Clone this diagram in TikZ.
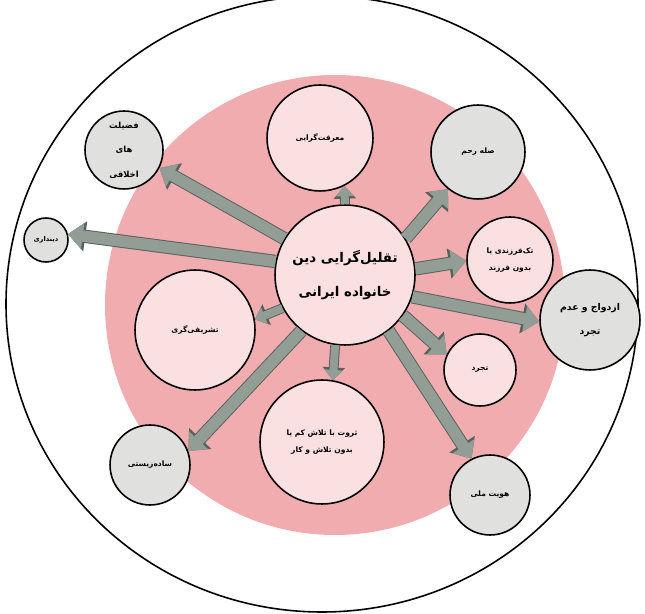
\documentclass[tikz,border=0pt]{standalone}
\usepackage{fontspec}
\newfontfamily\fa[Script=Arabic]{DejaVu Sans}
\TeXXeTstate=1
\usetikzlibrary{arrows.meta}
\definecolor{pinkbig}{RGB}{241,172,176}
\definecolor{pinksub}{RGB}{251,224,226}
\definecolor{graycirc}{RGB}{224,224,222}
\definecolor{arrowfill}{RGB}{146,157,149}
\definecolor{arrowline}{RGB}{88,98,92}
\tikzset{
  rad/.style={minimum size=#1*0.04cm},
  sub/.style={circle, draw=black, line width=0.9pt, fill=pinksub, inner sep=0pt, align=center, font=\fa\bfseries\fontsize{4.3}{10}\selectfont},
  side/.style={sub, fill=graycirc},
  blk/.style={draw=arrowfill, line width=6.5pt, -{Triangle[length=0pt 1.3, width=0pt 2.2]}},
  blkout/.style={draw=arrowline, line width=7.6pt, -{Triangle[length=0pt 1.3, width=0pt 2.2]}},
  sblk/.style={blk, line width=4.5pt},
  sblkout/.style={blkout, line width=5.6pt}
}
\begin{document}
\begin{tikzpicture}[x=0.02cm, y=-0.02cm]
  \useasboundingbox (0,0) rectangle (645,614);
  \draw[line width=0.9pt, fill=white] (322,304) ellipse [x radius=316, y radius=308];
  \fill[pinkbig] (335,305) circle [radius=230];
  % center
  \node[sub, rad=70, font=\fa\bfseries\fontsize{7.6}{19}\selectfont] (ctr) at (345,275)
    {\beginR تقلیل‌گرایی دین\endR\\ \beginR خانواده ایرانی\endR};
  % pink circles
  \node[sub, rad=53] (mf) at (320,138) {\beginR معرفت‌گرایی\endR};
  \node[sub, rad=43] (tf) at (510,260) {\beginR تک‌فرزندی یا\endR\\ \beginR بدون فرزند\endR};
  \node[sub, rad=36] (tj) at (480,370) {\beginR تجرد\endR};
  \node[sub, rad=62] (sv) at (322,442) {\beginR ثروت با تلاش کم یا\endR\\ \beginR بدون تلاش و کار\endR};
  \node[sub, rad=60] (ts) at (195,330) {\beginR تشریفی‌گری\endR};
  % gray circles
  \node[side, rad=47] (sr) at (478,152) {\beginR صله رحم\endR};
  \node[side, rad=50, font=\fa\bfseries\fontsize{5.3}{14}\selectfont] (ez) at (590,320) {\beginR ازدواج و عدم\endR\\ \beginR تجرد\endR};
  \node[side, rad=40] (hm) at (490,495) {\beginR هویت ملی\endR};
  \node[side, rad=40] (sz) at (150,465) {\beginR ساده‌زیستی\endR};
  \node[side, rad=22, font=\fa\bfseries\fontsize{3.8}{8}\selectfont] (dn) at (46,240) {\beginR دینداری\endR};
  \node[side, rad=39, font=\fa\bfseries\fontsize{4.8}{14}\selectfont] (fz) at (124,150) {\beginR فضیلت\endR\\ \beginR های\endR\\ \beginR اخلاقی\endR};
  % arrows
  \foreach \a/\b in {ctr.149/fz.-27, ctr.169/dn.15, ctr.31/sr.-129, ctr.5/tf.181,
                     ctr.-18/ez.182, ctr.-35/tj.155, ctr.-52/hm.117, ctr.-128/sz.20} {
    \draw[blkout] (\a) -- (\b);
    \draw[blk] (\a) -- (\b);
  }
  \foreach \a/\b in {ctr.90/mf.-63, ctr.-98/sv.80, ctr.-152/ts.10} {
    \draw[sblkout] (\a) -- (\b);
    \draw[sblk] (\a) -- (\b);
  }
\end{tikzpicture}
\end{document}
